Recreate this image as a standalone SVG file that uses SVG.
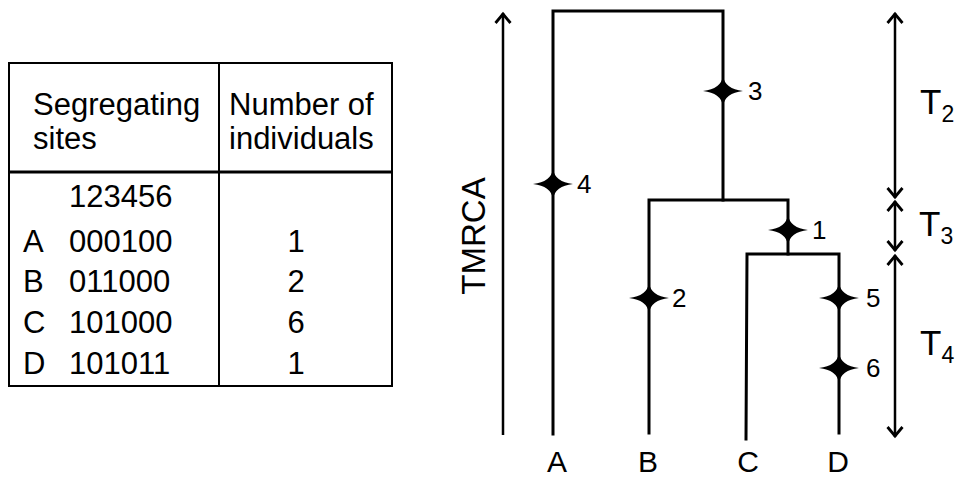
<svg xmlns="http://www.w3.org/2000/svg" width="956" height="477" viewBox="0 0 956 477">
<style>
text{font-family:"Liberation Sans",Arial,sans-serif;fill:#000}
.tb{font-size:31px}
.ml{font-size:26px}
.lf{font-size:30px}
.br{fill:none;stroke:#000;stroke-width:3;stroke-linecap:square}
.ar{fill:none;stroke:#000;stroke-width:2.5}
</style>
<defs>
<marker id="ah" viewBox="0 0 20 20" refX="12" refY="10" markerWidth="20" markerHeight="20" markerUnits="userSpaceOnUse" orient="auto-start-reverse">
<path d="M2,2.5 L11,10 L2,17.5" fill="none" stroke="#000" stroke-width="2.8"/>
</marker>
<path id="star" d="M-20,0 Q-2,-2 0,-15 Q2,-2 20,0 Q2,2 0,15 Q-2,2 -20,0Z" fill="#000"/>
</defs>
<g id="table">
<rect x="9" y="63" width="383" height="323" fill="none" stroke="#000" stroke-width="2"/>
<line x1="219" y1="63" x2="219" y2="386" stroke="#000" stroke-width="2"/>
<line x1="9" y1="172" x2="392" y2="172" stroke="#000" stroke-width="3"/>
<text class="tb" x="33" y="115">Segregating</text>
<text class="tb" x="33" y="149">sites</text>
<text class="tb" x="229" y="115">Number of</text>
<text class="tb" x="229" y="149">individuals</text>
<text class="tb" x="69" y="207">123456</text>
<text class="tb" x="23" y="252">A</text><text class="tb" x="69" y="252">000100</text><text class="tb" x="296" y="252" text-anchor="middle">1</text>
<text class="tb" x="23" y="292">B</text><text class="tb" x="69" y="292">011000</text><text class="tb" x="296" y="292" text-anchor="middle">2</text>
<text class="tb" x="23" y="333">C</text><text class="tb" x="69" y="333">101000</text><text class="tb" x="296" y="333" text-anchor="middle">6</text>
<text class="tb" x="23" y="374">D</text><text class="tb" x="69" y="374">101011</text><text class="tb" x="296" y="374" text-anchor="middle">1</text>
</g>
<g id="connectors">
<path class="br" d="M553,434 V11 H723 V200"/>
<path class="br" d="M649,433 V200 H788 V254"/>
<path class="br" d="M746,439 L747,254 H839 V433"/>
<line class="ar" x1="503" y1="435" x2="503" y2="13" marker-end="url(#ah)"/>
<line class="ar" x1="895" y1="13" x2="895" y2="198" marker-start="url(#ah)" marker-end="url(#ah)"/>
<line class="ar" x1="895" y1="201" x2="895" y2="251" marker-start="url(#ah)" marker-end="url(#ah)"/>
<line class="ar" x1="895" y1="255" x2="895" y2="437" marker-start="url(#ah)" marker-end="url(#ah)"/>
</g>
<g id="mut3"><use href="#star" x="723" y="91"/><text class="ml" x="748" y="100">3</text></g>
<g id="mut4"><use href="#star" x="553" y="184"/><text class="ml" x="577" y="193">4</text></g>
<g id="mut1"><use href="#star" x="788" y="230"/><text class="ml" x="812" y="239">1</text></g>
<g id="mut2"><use href="#star" x="649" y="298"/><text class="ml" x="672" y="307">2</text></g>
<g id="mut5"><use href="#star" x="839" y="298"/><text class="ml" x="866" y="307">5</text></g>
<g id="mut6"><use href="#star" x="839" y="368"/><text class="ml" x="866" y="377">6</text></g>
<g id="leafA"><text class="lf" x="557" y="472" text-anchor="middle">A</text></g>
<g id="leafB"><text class="lf" x="648" y="472" text-anchor="middle">B</text></g>
<g id="leafC"><text class="lf" x="748" y="472" text-anchor="middle">C</text></g>
<g id="leafD"><text class="lf" x="838" y="472" text-anchor="middle">D</text></g>
<g id="tmrca"><text x="485" y="236" font-size="33" text-anchor="middle" transform="rotate(-90 485 236)">TMRCA</text></g>
<g id="T2"><text x="920" y="114" font-size="35">T<tspan font-size="23" dy="8">2</tspan></text></g>
<g id="T3"><text x="919" y="236" font-size="35">T<tspan font-size="23" dy="8">3</tspan></text></g>
<g id="T4"><text x="920" y="355" font-size="35">T<tspan font-size="23" dy="8">4</tspan></text></g>
</svg>
